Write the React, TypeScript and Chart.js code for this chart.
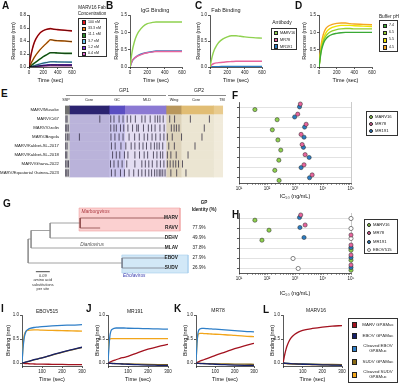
import React, { useEffect, useRef } from "react";
import { Chart, registerables } from "chart.js";

Chart.register(...registerables);
const FONT = "'Liberation Sans', Arial, Helvetica, sans-serif";
Chart.defaults.font.family = FONT;
Chart.defaults.color = "#1a1a1a";

/* ================= DATA ================= */
// Panel A – MARV16 Fab concentration series
const timeA = [0, 25, 50, 75, 100, 150, 200, 250, 300, 350, 400, 500, 600];
const concLabels = ["100 nM", "33.3 nM", "11.1 nM", "3.7 nM", "1.2 nM", "0.4 nM"];
const concColors = ["#e8161c", "#f7891e", "#2a8a2a", "#6cc5ee", "#7b35e6", "#e36ad0"];
const resp100 = [0, 0.17, 0.29, 0.38, 0.44, 0.52, 0.56, 0.58, 0.59, 0.58, 0.575, 0.565, 0.555];
const resp33 = [0, 0.05, 0.1, 0.15, 0.19, 0.26, 0.32, 0.37, 0.42, 0.41, 0.405, 0.4, 0.39];
const resp11 = [0, 0.02, 0.04, 0.06, 0.08, 0.12, 0.16, 0.19, 0.22, 0.22, 0.215, 0.21, 0.21];
const resp3_7 = [0, 0.01, 0.015, 0.02, 0.03, 0.045, 0.06, 0.07, 0.08, 0.08, 0.078, 0.076, 0.075];
const resp1_2 = [0, 0.005, 0.008, 0.01, 0.013, 0.02, 0.025, 0.03, 0.035, 0.035, 0.034, 0.033, 0.032];
const resp0_4 = [0, 0.003, 0.005, 0.007, 0.009, 0.012, 0.015, 0.018, 0.02, 0.02, 0.02, 0.019, 0.019];
const yTicksA = [0, 0.2, 0.4, 0.6, 0.8];
const xTicks600 = [0, 200, 400, 600];

// Panels B, C – IgG / Fab binding
const timeBC = [0, 25, 50, 75, 100, 150, 200, 250, 300, 350, 400, 500, 600];
const abNames = ["MARV16", "MR78", "MR191"];
const abColors = ["#8fd14f", "#e8649c", "#2b7bc0"];
const igMARV16 = [0, 0.45, 0.72, 0.9, 1.02, 1.17, 1.25, 1.28, 1.3, 1.3, 1.3, 1.3, 1.3];
const igMR78 = [0, 0.18, 0.25, 0.3, 0.33, 0.38, 0.41, 0.43, 0.445, 0.445, 0.445, 0.445, 0.445];
const igMR191 = [0, 0.17, 0.25, 0.3, 0.34, 0.39, 0.42, 0.44, 0.46, 0.46, 0.46, 0.46, 0.46];
const fabMARV16 = [0, 0.2, 0.33, 0.41, 0.47, 0.54, 0.58, 0.6, 0.6, 0.59, 0.58, 0.565, 0.555];
const fabMR78 = [0, 0.05, 0.07, 0.08, 0.085, 0.09, 0.1, 0.105, 0.11, 0.11, 0.11, 0.11, 0.11];
const fabMR191 = [0, 0.004, 0.006, 0.007, 0.008, 0.009, 0.01, 0.01, 0.01, 0.01, 0.01, 0.01, 0.01];
const yTicks15 = [0, 0.5, 1.0, 1.5];
const yTicks10 = [0, 0.5, 1.0];

// Panel D – buffer pH
const phLabels = ["7.4", "6.5", "5.5", "4.5"];
const phColors = ["#3aa935", "#93cf2f", "#efe300", "#f5a623"];
const ph74 = [0, 0.45, 0.68, 0.8, 0.87, 0.94, 0.97, 0.99, 1.0, 1.0, 1.0, 1.0, 1.0];
const ph65 = [0, 0.5, 0.75, 0.88, 0.96, 1.04, 1.08, 1.1, 1.11, 1.11, 1.1, 1.1, 1.1];
const ph55 = [0, 0.55, 0.82, 0.97, 1.06, 1.14, 1.18, 1.2, 1.2, 1.2, 1.19, 1.18, 1.17];
const ph45 = [0, 0.65, 0.95, 1.1, 1.17, 1.23, 1.26, 1.27, 1.27, 1.25, 1.24, 1.23, 1.22];

// Panel E – GP alignment
const strains = [
  "MARV/Musoke", "MARV/Ci67", "MARV/Ozolin", "MARV/Angola",
  "MARV/Kakbet-SL-2017", "MARV/Kakbet-SL-2018", "MARV/Ghana-2022", "MARV/Equatorial Guinea-2023",
];
const regionNames = ["SSP", "Core", "GC", "MLD", "Wing", "Core", "TM"];
const regionStart = [0, 19, 190, 257, 435, 500, 640];
const regionEnd = [19, 190, 257, 435, 500, 640, 681];
const regionRefColor = ["#707070", "#2b2370", "#5a4ec2", "#8b79d3", "#b9975c", "#e1bd74", "#e9cb8e"];
const regionColor = ["#d6d6d6", "#bab3da", "#cac4ec", "#e3ddf2", "#ddd3bb", "#ebe5d2", "#f1ebdb"];
const mutMusoke: number[] = [];
const mutCi67 = [4, 9, 150, 197, 211, 233, 250, 268, 283, 303, 331, 345, 367, 388, 399, 409, 423, 451, 472, 540, 622];
const mutOzolin = [3, 8, 14, 197, 211, 221, 239, 253, 271, 291, 309, 316, 338, 359, 373, 388, 409, 427, 458, 470, 480, 491, 600];
const mutAngola = [3, 10, 17, 62, 198, 215, 233, 250, 276, 300, 320, 341, 356, 375, 391, 410, 426, 441, 462, 502, 590];
const mutKak17 = [3, 9, 200, 216, 241, 262, 285, 301, 320, 336, 351, 370, 385, 396, 406, 421, 447, 471, 560];
const mutKak18 = [3, 8, 205, 221, 236, 256, 271, 301, 321, 341, 356, 381, 396, 411, 421, 441, 456, 479, 530];
const mutGhana = [3, 9, 15, 196, 211, 229, 246, 266, 301, 331, 346, 361, 376, 396, 411, 426, 441, 453, 466, 477, 489, 506];
const mutEqGuinea = [3, 8, 14, 200, 216, 239, 256, 276, 296, 316, 331, 346, 361, 373, 386, 396, 406, 413, 421, 431, 456, 481, 521];
const mutations = [mutMusoke, mutCi67, mutOzolin, mutAngola, mutKak17, mutKak18, mutGhana, mutEqGuinea];

// Panel F – IC50 against MARV strains (ng/mL)
const icMARV16F = [37, 230, 155, 245, 310, 265, 190, 270];
const icMR78F = [1550, 1250, 2500, 1650, 1800, 2300, 2100, 4100];
const icMR191F = [1450, 970, 2200, 2100, 2000, 3200, 1650, 3300];
const icTickLabels: Record<number, string> = { 10: "10¹", 100: "10²", 1000: "10³", 10000: "10⁴", 100000: "10⁵" };

// Panel G – tree
const treeTips = ["MARV", "RAVV", "DEHV", "MLAV", "EBOV", "SUDV"];
const gpIdentity = ["", "77.9%", "49.9%", "37.8%", "27.9%", "26.9%"];
// [x0, y0, x1, y1] in substitutions/site (x) and tip rows (y)
const treeBranches = [
  [0.336, 0, 0.885, 0], [0.336, 1, 0.465, 1], [0.336, 0, 0.336, 1],
  [0.142, 2, 0.885, 2], [0.142, 0.5, 0.142, 2], [0.142, 0.5, 0.336, 0.5],
  [0.019, 3, 0.885, 3], [0.019, 1.25, 0.019, 3], [0.019, 1.25, 0.142, 1.25],
  [0.607, 4, 0.885, 4], [0.607, 5, 0.885, 5], [0.607, 4, 0.607, 5],
  [0, 2.1, 0, 4.5], [0, 2.1, 0.019, 2.1], [0, 4.5, 0.607, 4.5],
];
const treeBranchClade = ["m", "m", "m", "o", "o", "o", "o", "o", "o", "e", "e", "e", "o", "o", "o"];
const scaleBarLength = 0.09;

// Panel H – IC50 across filoviruses (1e5 = not neutralizing)
const icMARV16H = [37, 118, 66, 100000, 100000, 100000];
const icMR78H = [1600, 2300, 100000, 100000, 100000, 100000];
const icMR191H = [1450, 1500, 2100, 100000, 100000, 100000];
const icEBOV515H = [100000, 100000, 100000, 100000, 850, 1300];

// Panels I–L – binding to GPΔMuc
const timeBind = [0, 5, 10, 15, 20, 30, 40, 60, 80, 100, 150, 200, 250, 300];
const bindNames = ["MARV GPΔMuc", "EBOV GPΔMuc", "Cleaved EBOV\nGPΔMuc", "SUDV GPΔMuc", "Cleaved SUDV\nGPΔMuc"];
const bindColors = ["#a3121f", "#16206b", "#2f7fc8", "#8a6a14", "#f2a51a"];
const iMARV = [0, 0, -0.005, -0.008, -0.01, -0.012, -0.015, -0.018, -0.02, -0.022, -0.025, -0.028, -0.03, -0.032];
const iEBOV = [0, 0.005, 0.01, 0.018, 0.025, 0.035, 0.045, 0.07, 0.09, 0.11, 0.17, 0.23, 0.28, 0.33];
const iCleavedEBOV = [0, 0.3, 0.5, 0.6, 0.66, 0.7, 0.72, 0.74, 0.75, 0.76, 0.775, 0.785, 0.79, 0.8];
const iSUDV = [0, 0.004, 0.009, 0.015, 0.022, 0.032, 0.043, 0.066, 0.088, 0.108, 0.165, 0.225, 0.275, 0.325];
const iCleavedSUDV = [0, 0.35, 0.55, 0.63, 0.66, 0.68, 0.685, 0.69, 0.69, 0.685, 0.68, 0.675, 0.67, 0.665];
const jMARV = [0, 0.01, 0.02, 0.03, 0.04, 0.055, 0.07, 0.1, 0.12, 0.14, 0.22, 0.29, 0.345, 0.39];
const jEBOV = [0, -0.002, -0.004, -0.006, -0.008, -0.01, -0.012, -0.016, -0.02, -0.024, -0.032, -0.04, -0.045, -0.05];
const jCleavedEBOV = [0, 0.35, 0.58, 0.67, 0.7, 0.72, 0.73, 0.73, 0.73, 0.725, 0.72, 0.715, 0.71, 0.705];
const jSUDV = [0, -0.001, -0.003, -0.004, -0.005, -0.007, -0.009, -0.012, -0.015, -0.018, -0.023, -0.027, -0.03, -0.032];
const jCleavedSUDV = [0, 0.45, 0.5, 0.51, 0.51, 0.51, 0.51, 0.51, 0.51, 0.51, 0.51, 0.51, 0.51, 0.51];
const kMARV = [0, 0.01, 0.02, 0.03, 0.04, 0.055, 0.07, 0.1, 0.13, 0.16, 0.23, 0.3, 0.36, 0.41];
const kEBOV = [0, -0.002, -0.004, -0.006, -0.008, -0.01, -0.012, -0.016, -0.02, -0.024, -0.032, -0.04, -0.046, -0.05];
const kCleavedEBOV = [0, 0.4, 0.62, 0.69, 0.71, 0.72, 0.72, 0.715, 0.71, 0.705, 0.69, 0.675, 0.66, 0.65];
const kSUDV = [0, -0.001, -0.002, -0.003, -0.004, -0.006, -0.008, -0.01, -0.012, -0.014, -0.017, -0.02, -0.022, -0.025];
const kCleavedSUDV = [0, 0.4, 0.58, 0.61, 0.62, 0.62, 0.615, 0.61, 0.605, 0.6, 0.59, 0.575, 0.56, 0.55];
const lMARV = [0, 0.1, 0.2, 0.28, 0.35, 0.45, 0.52, 0.6, 0.65, 0.68, 0.72, 0.75, 0.77, 0.78];
const lEBOV = [0, -0.002, -0.004, -0.006, -0.008, -0.01, -0.012, -0.016, -0.02, -0.024, -0.03, -0.036, -0.04, -0.045];
const lCleavedEBOV = [0, -0.002, -0.003, -0.004, -0.005, -0.007, -0.009, -0.012, -0.015, -0.018, -0.024, -0.03, -0.035, -0.04];
const lSUDV = [0, -0.002, -0.003, -0.005, -0.006, -0.008, -0.01, -0.013, -0.016, -0.019, -0.023, -0.026, -0.028, -0.03];
const lCleavedSUDV = [0, -0.004, -0.008, -0.01, -0.012, -0.015, -0.018, -0.022, -0.025, -0.028, -0.033, -0.037, -0.04, -0.042];
const xTicks300 = [0, 100, 200, 300];

/* ================= HELPERS ================= */
type Rect = { x: number; y: number; w: number; h: number };
type Plot = { L: number; T: number; R: number; B: number };

function axis(o: any) {
  const ticks: any = {
    font: { size: o.tickSize ?? 4.5 },
    padding: o.tickPad ?? 1,
    color: "#1a1a1a",
    autoSkip: false,
    maxRotation: 0,
    minRotation: 0,
  };
  if (o.fmt) ticks.callback = o.fmt;
  const a: any = {
    type: o.type || "linear",
    reverse: !!o.reverse,
    offset: !!o.offset,
    border: { display: o.border ?? true, color: "#111", width: 0.7 },
    grid: {
      display: o.grid ?? true,
      drawOnChartArea: !!o.gridColor,
      drawTicks: o.drawTicks ?? true,
      tickLength: o.tickLength ?? 2,
      color: o.gridColor || "#111",
      tickColor: "#111",
      lineWidth: o.gridWidth ?? 0.7,
      tickWidth: 0.7,
    },
    ticks,
    afterFit: (s: any) => {
      if (o.axis === "x") s.height = o.size;
      else s.width = o.size;
    },
    title: o.title
      ? {
          display: true,
          text: o.title,
          font: { size: 5.5, lineHeight: 1.2 },
          color: "#111",
          padding:
            o.axis === "x"
              ? { top: 0, bottom: Math.max(0, o.titleOff - 3.3) }
              : { top: Math.max(0, o.titleOff - 3.3), bottom: 0 },
        }
      : { display: false },
  };
  if (o.min !== undefined) a.min = o.min;
  if (o.max !== undefined) a.max = o.max;
  if (o.labels) a.labels = o.labels;
  if (o.ticks) a.afterBuildTicks = (s: any) => { s.ticks = o.ticks.map((v: number) => ({ value: v })); };
  return a;
}

function config(type: string, datasets: any[], rect: Rect, plot: Plot, scales: any, extra: any = {}) {
  const data: any = { datasets };
  if (extra.labels) data.labels = extra.labels;
  return {
    type,
    data,
    options: {
      animation: false,
      responsive: false,
      maintainAspectRatio: false,
      devicePixelRatio: 1,
      events: [],
      indexAxis: extra.indexAxis || "x",
      layout: {
        padding: {
          top: plot.T - rect.y,
          right: rect.x + rect.w - plot.R,
          left: extra.padLeft ?? 0,
          bottom: extra.padBottom ?? 0,
        },
      },
      plugins: { legend: { display: false }, tooltip: { enabled: false }, title: { display: false } },
      scales,
    },
    plugins: extra.plugins || [],
  };
}

function line(xs: number[], ys: number[], color: string, width = 1.4, extra: any = {}) {
  return {
    type: "line",
    data: xs.map((x, i) => ({ x, y: ys[i] })),
    borderColor: color,
    backgroundColor: color,
    borderWidth: width,
    pointRadius: 0,
    cubicInterpolationMode: "monotone",
    fill: false,
    ...extra,
  };
}

const f1 = (v: number) => v.toFixed(1);
const fInt = (v: number) => String(v);
const fNo0 = (v: number) => (v === 0 ? "" : String(v));

function kineticChart(rect: Rect, plot: Plot, datasets: any[], yTicks: number[], yMax: number, yMin: number,
  xTicks: number[], xMax: number, xFmt: any, yTitle: string, yTitleX: number, xTitleY: number) {
  return config("line", datasets, rect, plot, {
    x: axis({ axis: "x", min: 0, max: xMax, ticks: xTicks, fmt: xFmt, size: rect.y + rect.h - plot.B,
      title: "Time (sec)", titleOff: rect.y + rect.h - xTitleY }),
    y: axis({ axis: "y", min: yMin, max: yMax, ticks: yTicks, fmt: f1, size: plot.L - rect.x,
      title: yTitle, titleOff: yTitleX - rect.x }),
  });
}

function ChartCanvas({ rect, make }: { rect: Rect; make: () => any }) {
  const ref = useRef<HTMLCanvasElement>(null);
  useEffect(() => {
    const chart = new Chart(ref.current as HTMLCanvasElement, make());
    return () => chart.destroy();
  }, []);
  return (
    <canvas
      ref={ref}
      width={rect.w}
      height={rect.h}
      style={{ position: "absolute", left: rect.x, top: rect.y, width: rect.w, height: rect.h }}
    />
  );
}

function Txt({ x, y, size = 5, align = "center", bold = false, italic = false, color = "#1a1a1a", children }: any) {
  const tx = align === "center" ? "-50%" : align === "right" ? "-100%" : "0";
  return (
    <div
      style={{
        position: "absolute", left: x, top: y, transform: `translate(${tx},-50%)`,
        fontSize: size, lineHeight: 1.1, whiteSpace: "pre", textAlign: align as any,
        fontWeight: bold ? 700 : 400, fontStyle: italic ? "italic" : "normal", color, fontFamily: FONT,
      }}
    >
      {children}
    </div>
  );
}

function Letter({ x, y, children }: any) {
  return (
    <div style={{ position: "absolute", left: x, top: y, fontSize: 10, lineHeight: "10px", fontWeight: 700, fontFamily: FONT, color: "#111" }}>
      {children}
    </div>
  );
}

function Legend({ x, y, w, h, items, centers, size, markerSize, textX, shape, textAlign = "left", textW }: any) {
  return (
    <div style={{ position: "absolute", left: x, top: y, width: w, height: h, border: "0.6px solid #333", boxSizing: "border-box", background: "#fff" }}>
      {items.map((it: any, i: number) => {
        const s = it.shape || shape;
        const ms = markerSize;
        return (
          <React.Fragment key={i}>
            <div
              style={{
                position: "absolute", left: textX - ms - 2, top: centers[i] - ms / 2, width: ms, height: ms,
                boxSizing: "border-box",
                background: s === "ring" ? "#fff" : it.color,
                border: s === "ring" ? `0.8px solid ${it.color}` : "0.4px solid #222",
                borderRadius: s === "square" ? 0 : "50%",
              }}
            />
            <div
              style={{
                position: "absolute", left: textX, top: centers[i], transform: "translateY(-50%)",
                fontSize: size, lineHeight: 1.1, whiteSpace: "pre", fontFamily: FONT, color: "#1a1a1a",
                textAlign, width: textW,
              }}
            >
              {it.label}
            </div>
          </React.Fragment>
        );
      })}
    </div>
  );
}

/* ================= CHART FACTORIES ================= */
const rectA = { x: 4, y: 8, w: 74, h: 80 };
const plotA = { L: 29, T: 15, R: 72, B: 67 };
const makeA = () => {
  const series = [resp100, resp33, resp11, resp3_7, resp1_2, resp0_4];
  const fits = series.map((s) => line(timeA, s, "#000", 0.6, { order: 0 }));
  const cols = series.map((s, i) => line(timeA, s, concColors[i], 1.6, { order: 1 }));
  return kineticChart(rectA, plotA, [...fits, ...cols], yTicksA, 0.8, 0, xTicks600, 600, fInt, "Response (nm)", 13, 80);
};

const rectB = { x: 108, y: 8, w: 80, h: 80 };
const plotB = { L: 130, T: 15, R: 182, B: 67 };
const makeB = () =>
  kineticChart(rectB, plotB, [igMARV16, igMR78, igMR191].map((s, i) => line(timeBC, s, abColors[i], 1.4)),
    yTicks15, 1.5, 0, xTicks600, 600, fInt, "Response (nm)", 116, 80);

const rectC = { x: 188, y: 8, w: 80, h: 80 };
const plotC = { L: 210, T: 15, R: 262, B: 67 };
const makeC = () =>
  kineticChart(rectC, plotC, [fabMARV16, fabMR78, fabMR191].map((s, i) => line(timeBC, s, abColors[i], 1.4)),
    yTicks10, 1.0, 0, xTicks600, 600, fInt, "Response (nm)", 198, 80);

const rectD = { x: 297, y: 8, w: 80, h: 80 };
const plotD = { L: 319, T: 15, R: 372, B: 67 };
const makeD = () =>
  kineticChart(rectD, plotD, [ph74, ph65, ph55, ph45].map((s, i) => line(timeBC, s, phColors[i], 1.4)),
    yTicks15, 1.5, 0, xTicks600, 600, fInt, "Response (nm)", 304, 80);

const rectE = { x: 0, y: 99, w: 228, h: 85 };
const plotE = { L: 65, T: 102, R: 226, B: 183 };
const makeE = () => {
  const bands = regionNames.map((_, r) => ({
    type: "bar",
    indexAxis: "y",
    data: strains.map(() => [regionStart[r], regionEnd[r]]),
    backgroundColor: strains.map((_, s) => (s === 0 ? regionRefColor[r] : regionColor[r])),
    borderWidth: 0,
    grouped: false,
    barPercentage: 1,
    categoryPercentage: 1,
    order: 2,
  }));
  const ticks = {
    type: "scatter",
    data: mutations.flatMap((arr, r) => arr.map((p) => ({ x: p, y: strains[r] }))),
    pointStyle: "line",
    rotation: 90,
    pointRadius: 3.6,
    borderColor: "rgba(45,40,60,0.85)",
    borderWidth: 0.9,
    order: 0,
  };
  return config("bar", [...bands, ticks], rectE, plotE, {
    x: { type: "linear", min: 0, max: 681, display: false },
    y: axis({ axis: "y", type: "category", labels: strains, offset: true, grid: false, border: false,
      fmt: (v: number) => strains[v], tickSize: 4.3, tickPad: 4, size: plotE.L - rectE.x }),
  }, { indexAxis: "y", padBottom: rectE.y + rectE.h - plotE.B, labels: strains });
};

function icChart(rect: Rect, plot: Plot, rows: number, series: any[], titleY: number) {
  const rowH = (plot.B - plot.T) / rows;
  return config("scatter", series, rect, plot, {
    x: axis({ axis: "x", type: "logarithmic", min: 10, max: 100000, size: rect.y + rect.h - plot.B,
      fmt: (v: number) => icTickLabels[v] ?? "", tickLength: 1.6,
      gridColor: (c: any) => (c.tick && c.tick.value === 100000 ? "#b5b5b5" : "rgba(0,0,0,0)"),
      title: "IC₅₀ (ng/mL)", titleOff: rect.y + rect.h - titleY }),
    y: axis({ axis: "y", min: -0.5, max: -0.5 + (plot.B - plot.T) / rowH, reverse: true,
      ticks: Array.from({ length: rows }, (_, i) => i), fmt: () => "", gridColor: "#cfcfcf", gridWidth: 0.6,
      size: plot.L - rect.x }),
  });
}
function icSeries(values: number[], color: string, dy: number, ring = false) {
  return {
    data: values.map((v, i) => ({ x: v, y: i + dy })),
    backgroundColor: ring ? "#fff" : color,
    borderColor: ring ? "#666" : "#222",
    borderWidth: ring ? 0.8 : 0.5,
    pointRadius: 2.1,
    clip: false,
  };
}

const rectF = { x: 215, y: 97, w: 142, h: 105 };
const plotF = { L: 239, T: 102, R: 351, B: 183 };
const makeF = () =>
  icChart(rectF, plotF, 8, [
    icSeries(icMR78F, abColors[1], -0.3),
    icSeries(icMR191F, abColors[2], -0.02),
    icSeries(icMARV16F, abColors[0], 0.25),
  ], 196);

const rectH = { x: 215, y: 207, w: 142, h: 95 };
const plotH = { L: 239, T: 213, R: 351, B: 273 };
const makeH = () =>
  icChart(rectH, plotH, 6, [
    icSeries(icMR78H, abColors[1], -0.3),
    icSeries(icMR191H, abColors[2], -0.05),
    icSeries(icMARV16H, abColors[0], 0.22),
    icSeries(icEBOV515H, "#888", 0.05, true),
  ], 293);

const rectG = { x: 8, y: 198, w: 214, h: 95 };
const makeG = () => {
  const branchColor: Record<string, string> = { m: "#8a4646", o: "#8c8c8c", e: "#7a7f8c" };
  const branches = treeBranches.map((b, i) => ({
    data: [{ x: b[0], y: b[1] }, { x: b[2], y: b[3] }],
    showLine: true, borderColor: branchColor[treeBranchClade[i]], borderWidth: 0.8, pointRadius: 0, fill: false, order: 0, clip: false,
  }));
  const box = (x0: number, x1: number, y0: number, y1: number, fillC: string, edge: string) => [
    { data: [{ x: x0, y: y0 }, { x: x1, y: y0 }], showLine: true, borderWidth: 0, pointRadius: 0, backgroundColor: fillC, fill: { value: y1 }, order: 3, clip: false },
    { data: [{ x: x0, y: y0 }, { x: x1, y: y0 }, { x: x1, y: y1 }, { x: x0, y: y1 }, { x: x0, y: y0 }], showLine: true, borderColor: edge, borderWidth: 0.6, pointRadius: 0, fill: false, order: 2, clip: false },
  ];
  const scaleBar = { data: [{ x: 0.05, y: 5.37 }, { x: 0.05 + scaleBarLength, y: 5.37 }], showLine: true, borderColor: "#333", borderWidth: 0.9, pointRadius: 0, order: 0 };
  const textPlugin = {
    id: "treeText",
    afterDatasetsDraw(chart: any) {
      const { ctx } = chart;
      const X = (v: number) => chart.scales.x.getPixelForValue(v);
      const Y = (v: number) => chart.scales.y.getPixelForValue(v);
      ctx.save();
      ctx.textBaseline = "middle";
      ctx.fillStyle = "#222";
      ctx.font = `bold 4.8px ${FONT}`;
      ctx.textAlign = "right";
      treeTips.forEach((t, i) => ctx.fillText(t, X(0.968), Y(i)));
      ctx.font = `4.6px ${FONT}`;
      ctx.textAlign = "center";
      gpIdentity.forEach((t, i) => t && ctx.fillText(t, X(1.104), Y(i)));
      ctx.font = `bold 4.6px ${FONT}`;
      ctx.fillText("GP", X(1.136), Y(-1.5));
      ctx.fillText("Identity (%)", X(1.136), Y(-0.85));
      ctx.font = `italic 4.8px ${FONT}`;
      ctx.textAlign = "left";
      ctx.fillStyle = "#a8343c";
      ctx.fillText("Marburgvirus", X(0.345), Y(-0.62));
      ctx.fillStyle = "#3a3db0";
      ctx.fillText("Ebolavirus", X(0.613), Y(5.72));
      ctx.fillStyle = "#555";
      ctx.textAlign = "center";
      ctx.fillText("Dianlovirus", X(0.413), Y(2.68));
      ctx.fillStyle = "#333";
      ctx.font = `3.9px ${FONT}`;
      ["0.09", "amino acid", "substitutions", "per site"].forEach((t, i) => ctx.fillText(t, X(0.095), Y(5.75 + i * 0.45)));
      ctx.restore();
    },
  };
  return config("scatter", [...branches, ...box(0.329, 0.981, -1.0, 1.3, "#fbd0d0", "#f0a0a0"), ...box(0.605, 1.033, 3.7, 5.5, "#d2e8f7", "#a6cfec"), scaleBar],
    rectG, { L: rectG.x, T: rectG.y, R: rectG.x + rectG.w, B: rectG.y + rectG.h }, {
      x: { type: "linear", min: -0.13, max: 1.252, display: false },
      y: { type: "linear", min: -2, max: 7.5, reverse: true, display: false },
    }, { plugins: [textPlugin] });
};

function bindChart(rect: Rect, plot: Plot, series: number[][], yTitleX: number) {
  const ds = series.map((s, i) => line(timeBind, s, bindColors[i], 1.3, { order: i === 1 || i === 3 ? 0 : 1 }));
  return kineticChart(rect, plot, ds, yTicks10, 1.0, -0.06, xTicks300, 300, fNo0, "Binding (nm)", yTitleX, 380);
}
const rectI = { x: 0, y: 311, w: 88, h: 72 };
const plotI = { L: 22, T: 315, R: 82, B: 366 };
const rectJ = { x: 86, y: 311, w: 88, h: 72 };
const plotJ = { L: 108, T: 315, R: 168, B: 366 };
const rectK = { x: 174, y: 311, w: 86, h: 72 };
const plotK = { L: 196, T: 315, R: 254, B: 366 };
const rectL = { x: 261, y: 311, w: 87, h: 72 };
const plotL = { L: 283, T: 315, R: 342, B: 366 };
const makeI = () => bindChart(rectI, plotI, [iMARV, iEBOV, iCleavedEBOV, iSUDV, iCleavedSUDV], 8);
const makeJ = () => bindChart(rectJ, plotJ, [jMARV, jEBOV, jCleavedEBOV, jSUDV, jCleavedSUDV], 97);
const makeK = () => bindChart(rectK, plotK, [kMARV, kEBOV, kCleavedEBOV, kSUDV, kCleavedSUDV], 185);
const makeL = () => bindChart(rectL, plotL, [lMARV, lEBOV, lCleavedEBOV, lSUDV, lCleavedSUDV], 272);

/* ================= APP ================= */
export default function App() {
  return (
    <div style={{ position: "fixed", left: 0, top: 0, width: 400, height: 383, background: "#fff", overflow: "hidden", fontFamily: FONT }}>
      <ChartCanvas rect={rectA} make={makeA} />
      <ChartCanvas rect={rectB} make={makeB} />
      <ChartCanvas rect={rectC} make={makeC} />
      <ChartCanvas rect={rectD} make={makeD} />
      <ChartCanvas rect={rectE} make={makeE} />
      <ChartCanvas rect={rectF} make={makeF} />
      <ChartCanvas rect={rectG} make={makeG} />
      <ChartCanvas rect={rectH} make={makeH} />
      <ChartCanvas rect={rectI} make={makeI} />
      <ChartCanvas rect={rectJ} make={makeJ} />
      <ChartCanvas rect={rectK} make={makeK} />
      <ChartCanvas rect={rectL} make={makeL} />

      {/* panel letters */}
      <Letter x={2} y={1}>A</Letter>
      <Letter x={106} y={1}>B</Letter>
      <Letter x={195} y={1}>C</Letter>
      <Letter x={295} y={1}>D</Letter>
      <Letter x={1} y={89}>E</Letter>
      <Letter x={232} y={91}>F</Letter>
      <Letter x={3} y={199}>G</Letter>
      <Letter x={232} y={210}>H</Letter>
      <Letter x={1} y={304}>I</Letter>
      <Letter x={86} y={304}>J</Letter>
      <Letter x={174} y={304}>K</Letter>
      <Letter x={263} y={305}>L</Letter>

      {/* titles */}
      <Txt x={155} y={10} size={5.5}>IgG Binding</Txt>
      <Txt x={226} y={10} size={5.5}>Fab Binding</Txt>
      <Txt x={47} y={312} size={5}>EBOV515</Txt>
      <Txt x={135} y={312} size={5}>MR191</Txt>
      <Txt x={218} y={311} size={5}>MR78</Txt>
      <Txt x={316} y={311} size={5}>MARV16</Txt>

      {/* legend A */}
      <Txt x={92} y={8} size={4.6}>MARV16 Fab</Txt>
      <Txt x={92} y={14} size={4.6}>Concentration</Txt>
      <Legend x={78} y={18} w={29} h={39} shape="square" size={3.6} markerSize={4.5} textX={9}
        items={concLabels.map((l, i) => ({ label: l, color: concColors[i] }))}
        centers={concLabels.map((_, i) => 3.7 + i * 6.3)} />

      {/* legend C */}
      <Txt x={282} y={23} size={5}>Antibody</Txt>
      <Legend x={271} y={28} w={26} h={22} shape="square" size={3.8} markerSize={4.5} textX={8}
        items={abNames.map((l, i) => ({ label: l, color: abColors[i] }))}
        centers={[4, 10.8, 17.6]} />

      {/* legend D */}
      <Txt x={389} y={17} size={4.8}>Buffer pH</Txt>
      <Legend x={379} y={20} w={19} h={32} shape="square" size={3.6} markerSize={4.5} textX={9}
        items={phLabels.map((l, i) => ({ label: l, color: phColors[i] }))}
        centers={[4.8, 12.1, 19.4, 26.7]} />

      {/* E header */}
      <Txt x={124} y={91} size={5}>GP1</Txt>
      <div style={{ position: "absolute", left: 66, top: 95, width: 100, height: 0, borderTop: "0.6px solid #888" }} />
      <Txt x={199} y={91} size={5}>GP2</Txt>
      <div style={{ position: "absolute", left: 168, top: 95, width: 58, height: 0, borderTop: "0.6px solid #888" }} />
      <Txt x={66} y={99.5} size={3.8}>SSP</Txt>
      <Txt x={89} y={99.5} size={3.8}>Core</Txt>
      <Txt x={117} y={99.5} size={3.8}>GC</Txt>
      <Txt x={147} y={99.5} size={3.8}>MLD</Txt>
      <Txt x={174} y={99.5} size={3.8}>Wing</Txt>
      <Txt x={196} y={99.5} size={3.8}>Core</Txt>
      <Txt x={222} y={99.5} size={3.8}>TM</Txt>

      {/* legend F */}
      <Legend x={366} y={111} w={32} h={25} shape="circle" size={4.2} markerSize={4} textX={8}
        items={abNames.map((l, i) => ({ label: l, color: abColors[i] }))}
        centers={[5, 12, 19]} />

      {/* legend H */}
      <Legend x={364} y={219} w={34} h={35} shape="circle" size={4.2} markerSize={4} textX={8}
        items={[...abNames.map((l, i) => ({ label: l, color: abColors[i] })), { label: "EBOV515", color: "#777", shape: "ring" }]}
        centers={[5, 13.3, 21.6, 29.9]} />

      {/* legend I–L */}
      <Legend x={348} y={318} w={50} h={65} shape="square" size={4.4} markerSize={5.5} textX={10} textAlign="center" textW={38}
        items={bindNames.map((l, i) => ({ label: l, color: bindColors[i] }))}
        centers={[6, 17, 30, 43, 56]} />
    </div>
  );
}
